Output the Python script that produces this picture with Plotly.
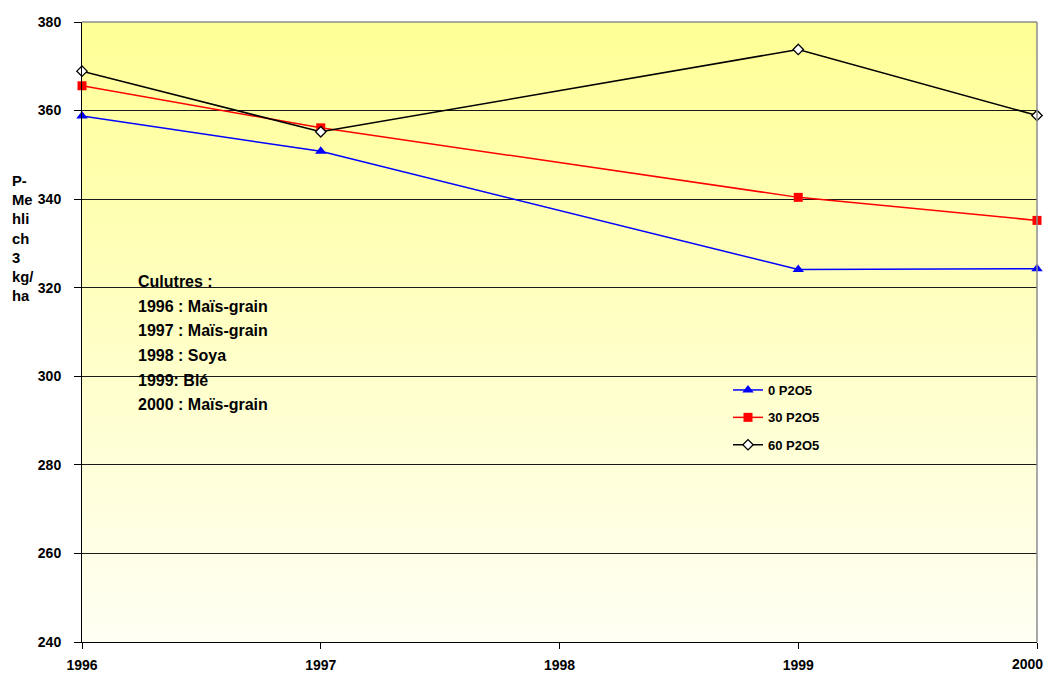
import base64
import plotly.graph_objects as go

# P-Mehlich 3 (kg/ha) per phosphorus rate
years = [1996, 1997, 1999, 2000]
p0 = [358.8, 350.8, 324.1, 324.3]
p30 = [365.6, 356.1, 340.4, 335.2]
p60 = [368.9, 355.2, 373.8, 358.9]

series_names = ["0 P2O5", "30 P2O5", "60 P2O5"]
year_ticks = [1996, 1997, 1998, 1999, 2000]
y_ticks = [240, 260, 280, 300, 320, 340, 360, 380]

crop_notes = [
    "Culutres :",
    "1996 : Maïs-grain",
    "1997 : Maïs-grain",
    "1998 : Soya",
    "1999: Blé",
    "2000 : Maïs-grain",
]

FONT = "Liberation Sans, Arial, sans-serif"
x_range = [year_ticks[0], year_ticks[-1]]
y_range = [y_ticks[0], y_ticks[-1]]
tick_font = dict(family=FONT, size=14, color="#000000", weight="bold")

# vertical yellow gradient as an SVG image placed under the gridlines
svg = (
    '<svg xmlns="http://www.w3.org/2000/svg" width="10" height="100" '
    'preserveAspectRatio="none" viewBox="0 0 10 100">'
    '<defs><linearGradient id="g" x1="0" y1="0" x2="0" y2="1">'
    '<stop offset="0" stop-color="#FFFF96"/>'
    '<stop offset="1" stop-color="#FFFFF4"/>'
    '</linearGradient></defs>'
    '<rect width="10" height="100" fill="url(#g)"/></svg>'
)
bg_src = "data:image/svg+xml;base64," + base64.b64encode(svg.encode()).decode()

fig = go.Figure()

styles = [
    dict(color="#0000FF", symbol="triangle-up", size=10, fill="#0000FF", lw=0),
    dict(color="#FF0000", symbol="square", size=9, fill="#FF0000", lw=0),
    dict(color="#000000", symbol="diamond", size=8, fill="#FFFFFF", lw=1.3),
]
for i, (name, vals, st) in enumerate(zip(series_names, [p0, p30, p60], styles)):
    fig.add_trace(go.Scatter(
        x=years, y=vals, name=name, mode="lines+markers",
        line=dict(color=st["color"], width=1.5),
        marker=dict(symbol=st["symbol"], size=st["size"], color=st["fill"],
                    line=dict(color=st["color"], width=st["lw"])),
        cliponaxis=False, legendgroup=f"g{i}",
    ))

fig.add_layout_image(
    source=bg_src, xref="x", yref="y", x=x_range[0], y=y_range[1],
    sizex=x_range[1] - x_range[0], sizey=y_range[1] - y_range[0],
    sizing="stretch", layer="below", xanchor="left", yanchor="top",
)

# crop rotation notes
for k, txt in enumerate(crop_notes):
    fig.add_annotation(
        x=0.0565, y=(642 - (281.5 + 24.7 * k)) / 620,
        xref="paper", yref="paper", xanchor="left", yanchor="middle",
        text=txt, showarrow=False,
        font=dict(family=FONT, size=16, color="#000000", weight="bold"),
    )

# y-axis title, wrapped in a narrow column
fig.add_annotation(
    x=-0.075, y=(642 - 238) / 620, xref="paper", yref="paper",
    xanchor="left", yanchor="middle", align="left",
    text="P-<br>Me<br>hli<br>ch<br>3<br>kg/<br>ha", showarrow=False,
    font=dict(family=FONT, size=14.8, color="#000000", weight="bold"),
)

# last year label, pulled inward so it stays inside the page
fig.add_annotation(
    x=1.0084, y=(642 - 664) / 620, xref="paper", yref="paper",
    xanchor="right", yanchor="middle", text=str(year_ticks[-1]),
    showarrow=False, font=tick_font,
)

# grey frame on top and right
fig.add_shape(type="line", xref="paper", yref="paper", x0=0, x1=1, y0=1, y1=1,
              line=dict(color="#8C8C8C", width=1.5))
fig.add_shape(type="line", xref="paper", yref="paper", x0=1, x1=1, y0=0, y1=1,
              line=dict(color="#8C8C8C", width=1.5))

fig.update_layout(
    width=1049, height=675,
    margin=dict(l=82, r=12, t=22, b=33, autoexpand=False),
    paper_bgcolor="#FFFFFF", plot_bgcolor="#FFFFFF",
    font=dict(family=FONT, size=14, color="#000000"),
    showlegend=True,
    legend=dict(
        x=(728 - 82) / 955, y=(642 - 375) / 620, xanchor="left", yanchor="top",
        bgcolor="rgba(0,0,0,0)", borderwidth=0, tracegroupgap=7.5,
        font=dict(family=FONT, size=13, color="#000000", weight="bold"),
        itemwidth=30,
    ),
    xaxis=dict(
        range=x_range, tickvals=year_ticks,
        ticktext=[str(t) for t in year_ticks[:-1]] + [""],
        showgrid=False, zeroline=False, showline=True, linecolor="#000000",
        linewidth=1, ticks="outside", ticklen=6, tickcolor="#000000",
        ticklabelstandoff=4, automargin=False, ticklabeloverflow="allow",
        tickfont=tick_font,
    ),
    yaxis=dict(
        range=y_range, tickvals=y_ticks, showgrid=True, gridcolor="#1A1A1A",
        gridwidth=1, zeroline=False, showline=True, linecolor="#000000",
        linewidth=1, ticks="outside", ticklen=7, tickcolor="#000000",
        ticklabelstandoff=10, automargin=False, ticklabeloverflow="allow",
        tickfont=tick_font,
    ),
)

fig.write_html("out.html")
